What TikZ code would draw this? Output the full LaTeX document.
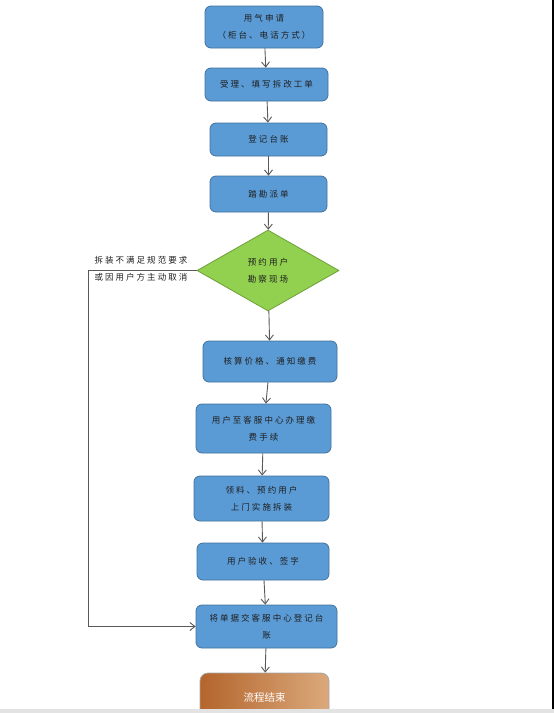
\documentclass[tikz,border=0pt]{standalone}
\usepackage{fontspec}
\newfontfamily\cjk[LetterSpace=24]{Noto Sans CJK SC}
\newfontfamily\cjkplain{Noto Sans CJK SC}
\usetikzlibrary{arrows.meta,shapes.geometric}
\definecolor{boxblue}{HTML}{5B9BD5}
\definecolor{boxedge}{HTML}{41719C}
\definecolor{leafgreen}{HTML}{92D050}
\definecolor{leafedge}{HTML}{6FA03A}
\definecolor{linegray}{HTML}{595959}
\definecolor{textgray}{HTML}{1E1E1E}
\definecolor{rustleft}{HTML}{B4652C}
\definecolor{rustright}{HTML}{DBA97C}

\tikzset{
  procbox/.style={draw=boxedge, line width=0.8pt, fill=boxblue, rounded corners=6pt,
    align=center, text=textgray, inner sep=2pt},
  checkbox/.style={diamond, draw=leafedge, line width=0.8pt, fill=leafgreen,
    align=center, text=textgray, inner sep=0pt, minimum width=142, minimum height=81},
  endbox/.style={draw=gray!70, line width=0.8pt, rounded corners=8pt,
    left color=rustleft, right color=rustright, text=white,
    font=\cjkplain\fontsize{10.5}{13}\selectfont},
  flow/.style={draw=linegray, line width=0.9pt, -{Straight Barb[length=5pt,width=8pt]}}
}

\begin{document}
\begin{tikzpicture}[x=1pt, y=-1pt, every node/.style={font=\cjk\fontsize{8.5}{17}\selectfont}]
  \useasboundingbox (0,0) rectangle (554,713);

  % Steps
  \node[procbox, minimum width=118, minimum height=42] (apply) at (264,27) {用气申请\\（柜台、电话方式）};
  \node[procbox, minimum width=123, minimum height=33] (accept) at (266.5,84.5) {受理、填写拆改工单};
  \node[procbox, minimum width=117, minimum height=33] (ledger) at (268.5,139.5) {登记台账};
  \node[procbox, minimum width=117, minimum height=36] (dispatch) at (268.5,194) {踏勘派单};
  \node[checkbox] (survey) at (268,270.5) {预约用户\\勘察现场};
  \node[procbox, minimum width=134, minimum height=41] (price) at (270,361.5) {核算价格、通知缴费};
  \node[procbox, minimum width=135, minimum height=49] (pay) at (263.5,428.5) {用户至客服中心办理缴\\费手续};
  \node[procbox, minimum width=135, minimum height=45] (install) at (261.5,498.5) {领料、预约用户\\上门实施拆装};
  \node[procbox, minimum width=132, minimum height=37] (check) at (263,561.5) {用户验收、签字};
  \node[procbox, minimum width=141, minimum height=43] (handin) at (266.5,626.5) {将单据交客服中心登记台\\账};
  \node[endbox, minimum width=129, minimum height=48] (finish) at (264.5,697) {流程结束};

  % Main flow
  \draw[flow] (apply) -- (accept);
  \draw[flow] (accept) -- (ledger);
  \draw[flow] (ledger) -- (dispatch);
  \draw[flow] (dispatch) -- (survey);
  \draw[flow] (survey) -- (price);
  \draw[flow] (price) -- (pay);
  \draw[flow] (pay) -- (install);
  \draw[flow] (install) -- (check);
  \draw[flow] (check) -- (handin);
  \draw[flow] (handin) -- (finish);

  % Cancel branch
  \draw[flow] (survey.west) -- ++(-108,0) |- (handin.west);
  \node[align=left, anchor=west, text=textgray] (cancel) at (91,268.5)
    {拆装不满足规范要求\\或因用户方主动取消};

  % Page edge
  \fill[gray!22] (0,709) rectangle (554,713);
  \draw[line width=1.5pt] (553,0) -- (553,709);
\end{tikzpicture}
\end{document}
